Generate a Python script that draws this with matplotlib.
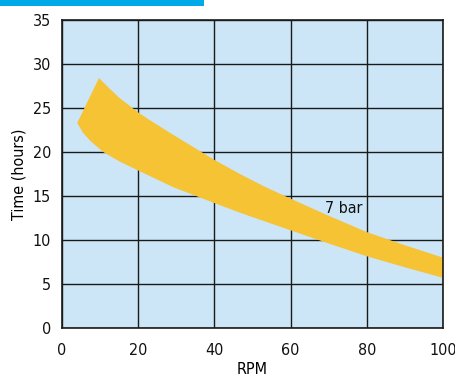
import matplotlib
matplotlib.use("Agg")
import matplotlib.pyplot as plt
from matplotlib.patches import Rectangle

# horní hrana pásma (RPM, hodiny), začíná v levém rohu
upper_rpm = [4.0, 9.7, 12.5, 15.2, 20, 23.1, 29.2, 40, 46.7, 53, 60, 70, 80, 90, 100]
upper_time = [23.3, 28.4, 27.2, 26.1, 24.5, 23.6, 21.95, 19.1, 17.5, 16.1, 14.7, 12.75, 10.9, 9.4, 8.0]
# dolní hrana pásma
lower_rpm = [4.0, 5.5, 7.35, 10.8, 15.2, 20, 29.2, 40, 46.7, 60, 70, 80, 90, 100]
lower_time = [23.3, 22.2, 21.3, 20.0, 18.9, 17.9, 16.0, 14.2, 13.1, 11.1, 9.6, 8.15, 6.9, 5.7]

x_ticks = [0, 20, 40, 60, 80, 100]
y_ticks = [0, 5, 10, 15, 20, 25, 30, 35]
band_label = "7 bar"

plt.rcParams["font.family"] = ["DejaVu Sans"]
plt.rcParams["font.stretch"] = "condensed"

fig = plt.figure(figsize=(4.56, 3.78), dpi=100)
ax = fig.add_axes([62 / 456, 50 / 378, 381 / 456, 308 / 378])
ax.set_facecolor("#cce6f7")

# pásmo jako polygon: dolní hrana zleva doprava, horní zprava doleva
xs = lower_rpm + upper_rpm[::-1]
ys = lower_time + upper_time[::-1]
ax.fill(xs, ys, color="#f5c334", linewidth=0, zorder=3)

ax.set_xlim(0, 100)
ax.set_ylim(0, 35)
ax.set_xticks(x_ticks)
ax.set_yticks(y_ticks)
ax.grid(True, color="#1a1a1a", linewidth=1.0, zorder=1)
ax.set_axisbelow(True)
for s in ax.spines.values():
    s.set_color("#1a1a1a")
    s.set_linewidth(1.2)
    s.set_zorder(4)
ax.tick_params(length=0, labelsize=11.5, colors="#111111")
ax.tick_params(axis="x", pad=11)
ax.tick_params(axis="y", pad=8)

ax.text(69, 13.6, band_label, fontsize=11.5, va="center", ha="left", color="#111111", zorder=5)

ax.set_xlabel("RPM", fontsize=11.5, labelpad=3)
ax.set_ylabel("Time (hours)", fontsize=11.5, labelpad=4)

# modrý proužek nahoře
fig.patches.append(Rectangle((0, 1 - 6 / 378), 204 / 456, 6 / 378, transform=fig.transFigure,
                             color="#00aae8", linewidth=0))

fig.savefig("out.png", dpi=100)
